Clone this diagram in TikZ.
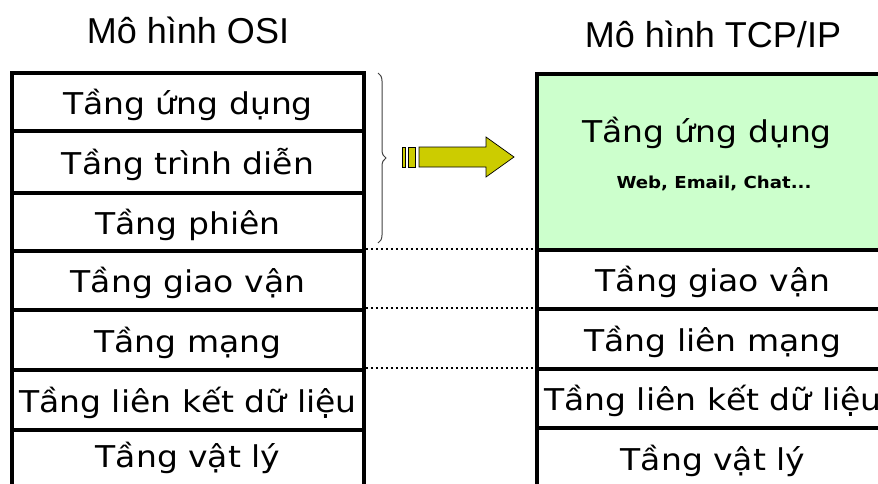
\documentclass[tikz,border=0pt]{standalone}
\usepackage{fontspec}
\usetikzlibrary{decorations.pathreplacing}
\newfontfamily\bodyfont[FakeStretch=1.1]{DejaVu Sans}
\newfontfamily\bodyboldfont[FakeStretch=1.1]{DejaVu Sans Bold}
\newfontfamily\titlefont{Liberation Sans}
\definecolor{appgreen}{HTML}{CCFFCC}
\definecolor{arrowyellow}{HTML}{CCCC00}
\definecolor{bracegray}{HTML}{404040}
\tikzset{
  layer/.style={draw=black, line width=3.5pt, minimum width=352pt, inner sep=0pt,
    text height=24pt, text depth=0pt, font=\bodyfont\fontsize{30}{30}\selectfont},
  titletext/.style={anchor=base, inner sep=0pt, font=\titlefont\fontsize{36}{36}\selectfont},
  plaintext/.style={anchor=base, inner sep=0pt},
  dotline/.style={line width=2.2pt, dash pattern=on 2.4pt off 2.6pt},
  arrowpart/.style={fill=arrowyellow, draw=black, line width=0.7pt, line join=miter}
}
\begin{document}
\begin{tikzpicture}[x=1pt, y=-1pt]
\useasboundingbox (0,0) rectangle (878,483);
\clip (0,0) rectangle (878,483);
% titles
\node[titletext] (osititle) at (188,43) {Mô hình OSI};
\node[titletext] (tcptitle) at (713,47) {Mô hình TCP/IP};
% OSI layers
\node[layer, minimum height=58pt] (o1) at (188,102) {Tầng ứng dụng};
\node[layer, minimum height=62pt] (o2) at (188,162) {Tầng trình diễn};
\node[layer, minimum height=58pt] (o3) at (188,222) {Tầng phiên};
\node[layer, minimum height=59pt] (o4) at (188,280.5) {Tầng giao vận};
\node[layer, minimum height=60pt] (o5) at (188,340) {Tầng mạng};
\node[layer, minimum height=60pt] (o6) at (188,400) {Tầng liên kết dữ liệu};
\node[layer, minimum height=65pt, text height=9pt] (o7) at (188,462.5) {Tầng vật lý};
% TCP/IP layers
\node[layer, fill=appgreen, minimum height=176pt] (t1) at (713,162) {};
\node[plaintext, font=\bodyfont\fontsize{30}{30}\selectfont] (t1a) at (707,142) {Tầng ứng dụng};
\node[plaintext, font=\bodyboldfont\fontsize{16.5}{16.5}\selectfont] (t1b) at (714,188) {Web, Email, Chat...};
\node[layer, minimum height=59pt] (t2) at (713,279.5) {Tầng giao vận};
\node[layer, minimum height=60pt] (t3) at (713,339) {Tầng liên mạng};
\node[layer, minimum height=59pt] (t4) at (713,398.5) {Tầng liên kết dữ liệu};
\node[layer, minimum height=67pt, text height=17pt] (t5) at (713,461.5) {Tầng vật lý};
% dotted connectors
\draw[dotline] (o4.north east) -- (o4.north east -| t2.west);
\draw[dotline] (o5.north east) -- (o5.north east -| t3.west);
\draw[dotline] (o6.north east) -- (o6.north east -| t4.west);
% brace
\coordinate (bracetop) at (378,73);
\coordinate (bracebot) at (378,243);
\draw[bracegray, line width=1pt, decorate, decoration={brace, amplitude=8pt}] (bracetop) -- (bracebot);
% arrow
\draw[arrowpart] (402,147) rectangle (405.5,167);
\draw[arrowpart] (408.5,147) rectangle (415.5,167);
\draw[arrowpart] (419,147) -- (486,147) -- (486,137) -- (514,157) -- (486,177) -- (486,167) -- (419,167) -- cycle;
\end{tikzpicture}
\end{document}
